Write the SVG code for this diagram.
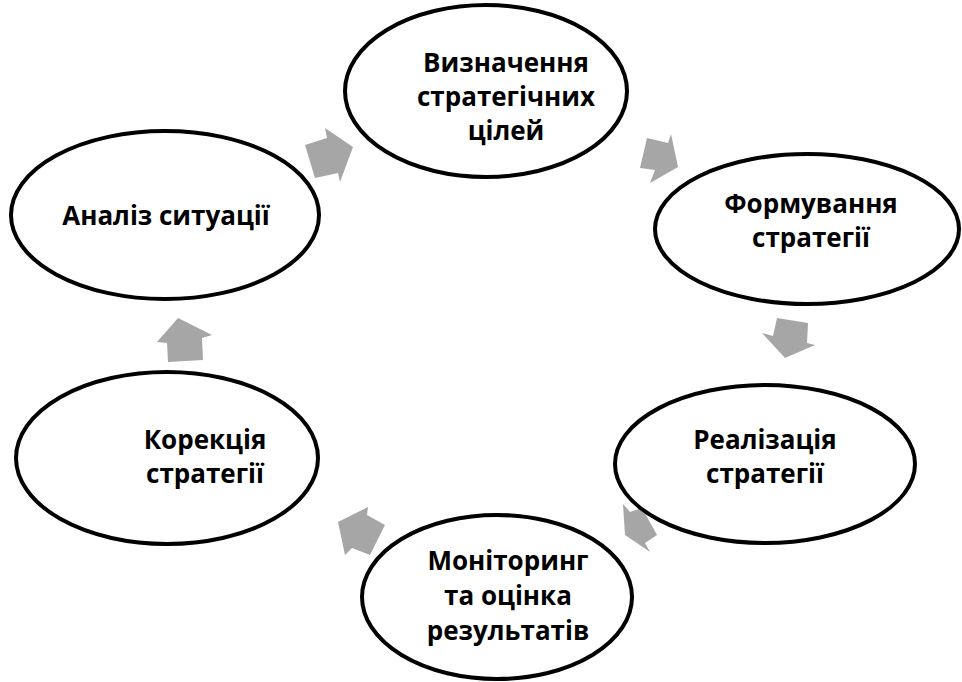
<svg xmlns="http://www.w3.org/2000/svg" width="962" height="682" viewBox="0 0 962 682">
<style>
.node ellipse{fill:#fff;stroke:#000;stroke-width:4}
.node text{font-family:"Open Sans","Liberation Sans",sans-serif;font-weight:bold;font-size:26px;fill:#000;text-anchor:middle}
.arr polygon{fill:#a6a6a6;stroke:none}
</style>
<rect width="962" height="682" fill="#fff"/>
<g id="connectors" class="arr">
<polygon points="305,145 327,138 325,128 353,147 340,182 338,173 315,178"/>
<polygon points="647,138 668,143 671,134 678,167 650,183 655,170 640,168"/>
<polygon points="777,318 808,323 807,343 815,345 785,358 762,333 773,336"/>
<polygon points="642,508 657,535 645,543 650,552 625,535 623,504 630,512"/>
<polygon points="338,522 368,507 367,515 385,525 370,555 352,548 345,555"/>
<polygon points="178,318 212,335 202,338 203,360 168,362 167,343 157,342"/>
</g>
<g id="n1" class="node">
<ellipse cx="486" cy="91" rx="141" ry="86"/>
<text x="506" y="72">Визначення</text>
<text x="506" y="106">стратегічних</text>
<text x="506" y="140">цілей</text>
</g>
<g id="n2" class="node">
<ellipse cx="807" cy="229" rx="152" ry="75"/>
<text x="811" y="213">Формування</text>
<text x="811" y="247">стратегії</text>
</g>
<g id="n3" class="node">
<ellipse cx="765" cy="464" rx="150" ry="79"/>
<text x="765" y="449">Реалізація</text>
<text x="765" y="483">стратегії</text>
</g>
<g id="n4" class="node">
<ellipse cx="497" cy="597" rx="135" ry="82"/>
<text x="508" y="570">Моніторинг</text>
<text x="508" y="605">та оцінка</text>
<text x="508" y="640">результатів</text>
</g>
<g id="n5" class="node">
<ellipse cx="167" cy="458" rx="151" ry="86"/>
<text x="205" y="449">Корекція</text>
<text x="205" y="483">стратегії</text>
</g>
<g id="n6" class="node">
<ellipse cx="165" cy="215" rx="154" ry="84"/>
<text x="166" y="225">Аналіз ситуації</text>
</g>
</svg>
